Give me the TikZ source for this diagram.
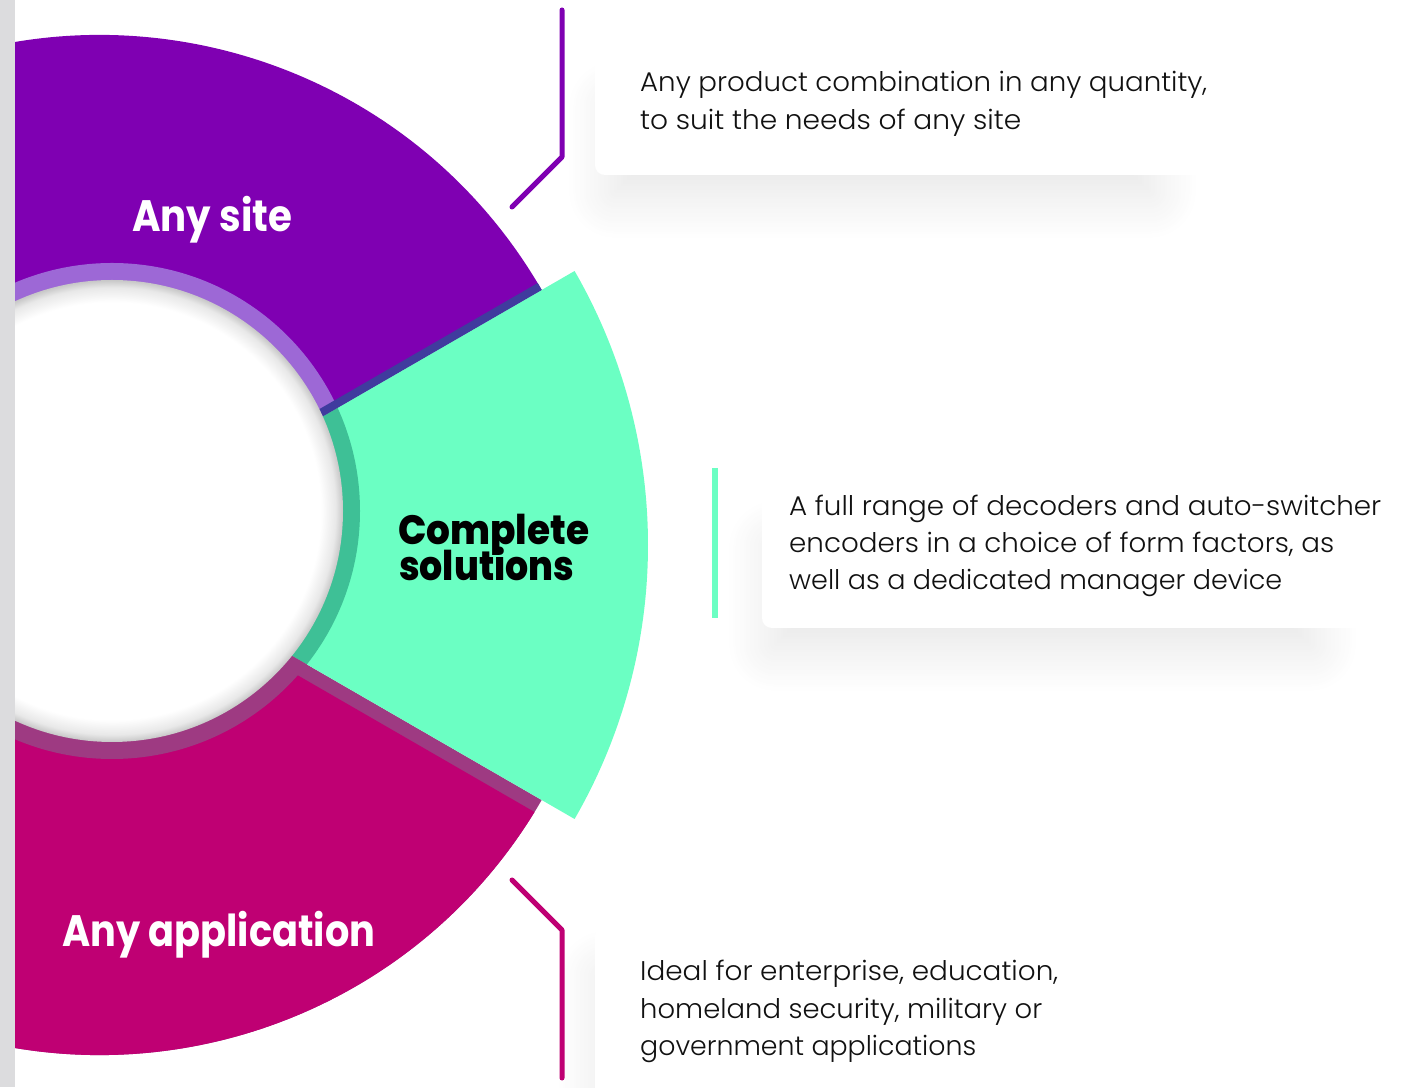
\documentclass[tikz,border=0pt]{standalone}
\usepackage{graphicx}
\usepackage{fontspec}
\setmainfont{Poppins}
\newfontfamily\lightfont{Poppins}[UprightFont={* Light}]
\newfontfamily\blackfont{Poppins}[UprightFont={* ExtraBold}]
\usetikzlibrary{calc,shadows.blur}
\definecolor{cpurple}{HTML}{7F00B2}
\definecolor{cpurpleband}{HTML}{9D68D6}
\definecolor{cstrip}{HTML}{403B9E}
\definecolor{cgreen}{HTML}{6BFFC3}
\definecolor{cgreenband}{HTML}{3EC096}
\definecolor{cmag}{HTML}{BF0073}
\definecolor{cmagband}{HTML}{9E3A82}
\definecolor{cgray}{HTML}{DCDCDE}
\definecolor{ctext}{HTML}{111111}
\pgfdeclareradialshading{innershade}{\pgfpoint{0bp}{0bp}}{color(0bp)=(white); color(22.6bp)=(white); color(24.2bp)=(black!9); color(25bp)=(black!22); color(50bp)=(black!22)}
\newcommand\fitw[2]{\resizebox{#1}{\height}{#2}}
\tikzset{
  body/.style={anchor=base west, inner sep=0pt, text=ctext, font=\lightfont\fontsize{27}{32}\selectfont},
  head/.style={anchor=base west, inner sep=0pt, font=\fontsize{44}{44}\selectfont\bfseries},
  headblack/.style={anchor=base west, inner sep=0pt, font=\blackfont\fontsize{41}{41}\selectfont},
  cardshadow/.style={fill=white, blur shadow={shadow xshift=0pt, shadow yshift=-20pt, shadow blur radius=48pt, shadow blur steps=24, shadow opacity=11}},
  card/.style={fill=white, rounded corners=10pt},
  link/.style={line width=5pt, line cap=round, line join=round},
}
\begin{document}
\begin{tikzpicture}[x=1pt,y=1pt]
\useasboundingbox (0,0) rectangle (1408,1087);
\coordinate (O) at (100,542);
\coordinate (I) at (112,576);

% card shadows
\path[cardshadow] (615,1000) rectangle (1150,915);
\path[cardshadow] (775,560) rectangle (1310,462);
\path[cardshadow] (605,130) rectangle (1250,-40);
% cards
\path[card] (595,1117) rectangle (1440,912);
\path[card] (762,647) rectangle (1440,459);
\path[card] (595,160) rectangle (1440,-40);

% purple segment
\fill[cpurple] (O) -- ($(O)+(30:510)$) arc[start angle=30, end angle=180, radius=510pt] -- cycle;
% magenta segment (tinted edge + main)
\fill[cmagband] (O) -- ($(O)+(-30:510)$) arc[start angle=-30, end angle=-180, radius=510pt] -- cycle;
\begin{scope}
  \clip ($(O)+(-120:14)+(150:1200)$) -- ($(O)+(-120:14)+(-30:1200)$) -- ($(O)+(-120:14)+(-30:1200)+(-120:1200)$) -- ($(O)+(-120:14)+(150:1200)+(-120:1200)$) -- cycle;
  \fill[cmag] (O) -- ($(O)+(-30:510)$) arc[start angle=-30, end angle=-180, radius=510pt] -- cycle;
\end{scope}
% green segment
\fill[cgreen] (O) -- ($(O)+(-30:548)$) arc[start angle=-30, end angle=30, radius=548pt] -- cycle;

% inner bands
\begin{scope}
  \clip (O) -- ($(O)+(30:900)$) arc[start angle=30, end angle=180, radius=900pt] -- cycle;
  \fill[cpurpleband] (I) circle[radius=248pt];
\end{scope}
\begin{scope}
  \clip (O) -- ($(O)+(-30:900)$) arc[start angle=-30, end angle=30, radius=900pt] -- cycle;
  \fill[cgreenband] (I) circle[radius=248pt];
\end{scope}
\begin{scope}
  \clip (O) -- ($(O)+(-30:900)$) arc[start angle=-30, end angle=-180, radius=900pt] -- cycle;
  \fill[cmagband] (I) circle[radius=248pt];
\end{scope}
% dark strip between purple and green
\begin{scope}
  \clip (O) circle[radius=510pt];
  \fill[cstrip] ($(O)+(30:150)$) -- ($(O)+(30:600)$) -- ($(O)+(30:600)+(120:8)$) -- ($(O)+(30:150)+(120:8)$) -- cycle;
\end{scope}

% white centre
\shade[shading=innershade] (I) circle[radius=231pt];

% left strip
\fill[cgray] (0,0) rectangle (15,1087);

% headings
\node[head, text=white] (h1) at (132,855) {\fitw{160pt}{Any site}};
\node[headblack, text=black] (h2a) at (398,542) {\fitw{191pt}{Complete}};
\node[headblack, text=black] (h2b) at (399,506) {\fitw{175pt}{solutions}};
\node[head, text=white] (h3) at (62,140) {\fitw{313pt}{Any application}};

% connectors
\coordinate (p1) at (562,1077);
\coordinate (p2) at (562,930);
\coordinate (p3) at (512,880);
\draw[link, cpurple] (p1) -- (p2) -- (p3);
\coordinate (g1) at (715,619);
\coordinate (g2) at (715,469);
\draw[line width=6pt, cgreen] (g1) -- (g2);
\coordinate (m1) at (512,207);
\coordinate (m2) at (562,157);
\coordinate (m3) at (562,9);
\draw[link, cmag] (m1) -- (m2) -- (m3);

% texts
\node[body] (t1a) at (640,995) {\fitw{567pt}{Any product combination in any quantity,}};
\node[body] (t1b) at (640,957) {\fitw{381pt}{to suit the needs of any site}};
\node[body] (t2a) at (789,571) {\fitw{592pt}{A full range of decoders and auto-switcher}};
\node[body] (t2b) at (789,534) {\fitw{545pt}{encoders in a choice of form factors, as}};
\node[body] (t2c) at (789,497) {\fitw{493pt}{well as a dedicated manager device}};
\node[body] (t3a) at (640,106) {\fitw{418pt}{Ideal for enterprise, education,}};
\node[body] (t3b) at (640,68) {\fitw{402pt}{homeland security, military or}};
\node[body] (t3c) at (640,31) {\fitw{336pt}{government applications}};
\end{tikzpicture}
\end{document}
